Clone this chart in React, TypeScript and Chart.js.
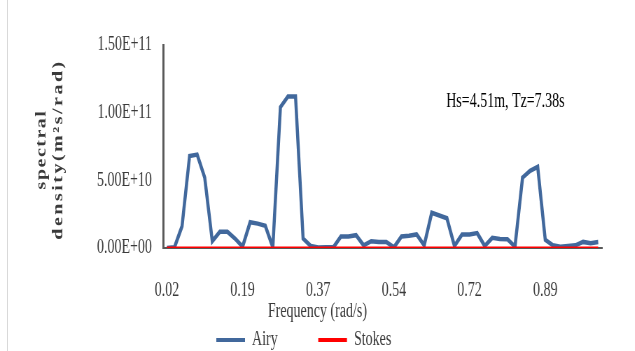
import React, { useEffect, useRef } from 'react';
import { Chart, registerables } from 'chart.js';

Chart.register(...registerables);

// ---------- data ----------
const frequencies = [
  '0.02', '0.04', '0.05', '0.07', '0.09', '0.11', '0.12', '0.14', '0.16', '0.18',
  '0.19', '0.21', '0.23', '0.25', '0.26', '0.28', '0.30', '0.32', '0.33', '0.35',
  '0.37', '0.39', '0.40', '0.42', '0.44', '0.46', '0.47', '0.49', '0.51', '0.53',
  '0.54', '0.56', '0.58', '0.60', '0.61', '0.63', '0.65', '0.67', '0.68', '0.70',
  '0.72', '0.74', '0.75', '0.77', '0.79', '0.81', '0.82', '0.84', '0.86', '0.88',
  '0.89', '0.91', '0.93', '0.95', '0.96', '0.98', '1.00', '1.02',
];

const airy = [
  0, 0.05e10, 1.6e10, 6.8e10, 6.9e10, 5.2e10, 0.5e10, 1.2e10, 1.2e10, 0.7e10,
  0.1e10, 1.9e10, 1.8e10, 1.65e10, 0.05e10, 10.4e10, 11.2e10, 11.2e10, 0.7e10, 0.15e10,
  0.03e10, 0.05e10, 0.05e10, 0.85e10, 0.85e10, 0.95e10, 0.2e10, 0.5e10, 0.45e10, 0.45e10,
  0.05e10, 0.85e10, 0.9e10, 1.0e10, 0.2e10, 2.6e10, 2.4e10, 2.2e10, 0.15e10, 1.0e10,
  1.0e10, 1.1e10, 0.15e10, 0.75e10, 0.67e10, 0.65e10, 0.1e10, 5.2e10, 5.7e10, 6.0e10,
  0.6e10, 0.2e10, 0.1e10, 0.15e10, 0.2e10, 0.45e10, 0.35e10, 0.45e10,
];

const stokes = [
  0, 0, 0, 0, 0, 0, 0, 0, 0, 0,
  0, 0, 0, 0, 0, 0, 0, 0, 0, 0,
  0, 0, 0, 0, 0, 0, 0, 0, 0, 0,
  0, 0, 0, 0, 0, 0, 0, 0, 0, 0,
  0, 0, 0, 0, 0, 0, 0, 0, 0, 0,
  0, 0, 0, 0, 0, 0, 0, 0,
];

const seriesNames = ['Airy', 'Stokes'];
const yTickLabels = ['0.00E+00', '5.00E+10', '1.00E+11', '1.50E+11'];
const xTitle = 'Frequency (rad/s)';
const yTitle = ['spectral', 'density(m²s/rad)'];
const noteText = 'Hs=4.51m, Tz=7.38s';

// ---------- layout / style ----------
const SX = 0.7; // horizontal squash of the reference image
const W = Math.round(635 / SX);
const H = 351;
const FONT = '"Liberation Serif", "Times New Roman", serif';
const TXT = '#3a3a3a';

const textPlugin = {
  id: 'extraTexts',
  afterDraw(chart: any) {
    const { ctx, chartArea } = chart;
    ctx.save();
    ctx.fillStyle = TXT;
    ctx.font = `bold 20px ${FONT}`;
    ctx.textAlign = 'center';
    ctx.textBaseline = 'middle';
    const cy = (chartArea.top + chartArea.bottom) / 2 + 3;
    const xs = [60, 84];
    const spacing = ['1.5px', '2.5px'];
    yTitle.forEach((t, i) => {
      ctx.save();
      (ctx as any).letterSpacing = spacing[i];
      ctx.translate(xs[i], cy);
      ctx.rotate(-Math.PI / 2);
      ctx.fillText(t, 0, 0);
      ctx.restore();
    });
    (ctx as any).letterSpacing = '0px';
    ctx.font = `20px ${FONT}`;
    ctx.fillStyle = TXT;
    ctx.fillText(xTitle, W / 2, 312);
    ctx.fillStyle = '#000000';
    ctx.fillText(noteText, 722, 102);
    ctx.restore();
  },
};

// move the legend row into its place below the axis title
const legendPlace = {
  id: 'legendPlace',
  afterLayout(chart: any) {
    const l = chart.legend;
    if (!l) return;
    l.top -= 33;
    l.bottom -= 33;
    l.left += 4;
    l.right += 4;
  },
};

export default function App() {
  const ref = useRef<HTMLCanvasElement | null>(null);

  useEffect(() => {
    if (!ref.current) return;
    const chart = new Chart(ref.current, {
      type: 'line',
      data: {
        labels: frequencies,
        datasets: [
          {
            label: seriesNames[0],
            data: airy,
            borderColor: '#41689c',
            backgroundColor: '#41689c',
            borderWidth: 4.5,
            pointRadius: 0,
            tension: 0,
            order: 1,
          },
          {
            label: seriesNames[1],
            data: stokes,
            borderColor: '#ff0000',
            backgroundColor: '#ff0000',
            borderWidth: 3,
            pointRadius: 0,
            tension: 0,
            order: 0,
          },
        ],
      },
      options: {
        responsive: false,
        animation: false,
        devicePixelRatio: 1,
        layout: { padding: { left: 0, right: 47, top: 45, bottom: -42 } },
        plugins: {
          tooltip: { enabled: false },
          legend: {
            position: 'bottom',
            align: 'center',
            labels: {
              boxWidth: 41,
              boxHeight: 4,
              padding: 58,
              color: TXT,
              font: { family: FONT, size: 20 },
              generateLabels: (c: any) =>
                c.data.datasets.map((ds: any, i: number) => ({
                  text: ds.label,
                  fillStyle: ds.borderColor,
                  strokeStyle: ds.borderColor,
                  lineWidth: 0,
                  hidden: false,
                  datasetIndex: i,
                  fontColor: TXT,
                })),
            },
          },
        },
        scales: {
          x: {
            type: 'category',
            offset: true,
            grid: { display: false, drawTicks: false },
            border: { display: true, color: '#595959', width: 2 },
            ticks: {
              autoSkip: false,
              maxRotation: 0,
              minRotation: 0,
              padding: 31,
              color: TXT,
              font: { family: FONT, size: 20 },
              callback: function (this: any, v: any, i: number) {
                return i % 10 === 0 ? this.getLabelForValue(v) : '';
              },
            },
            afterFit: (s: any) => {
              s.height = 57;
            },
          },
          y: {
            min: 0,
            max: 1.5e11,
            grid: { display: false, drawTicks: false },
            border: { display: true, color: '#595959', width: 3 },
            ticks: {
              stepSize: 5e10,
              padding: 16,
              color: TXT,
              font: { family: FONT, size: 20 },
              callback: (_v: any, i: number) => yTickLabels[i],
            },
            afterFit: (s: any) => {
              s.width = 233;
            },
          },
        },
      },
      plugins: [textPlugin, legendPlace],
    } as any);
    return () => chart.destroy();
  }, []);

  return (
    <div
      style={{
        position: 'fixed',
        left: 0,
        top: 0,
        width: 635,
        height: 351,
        overflow: 'hidden',
        background: '#ffffff',
      }}
    >
      <div style={{ position: 'absolute', left: 7, top: 0, width: 1, height: 351, background: '#d9d9d9' }} />
      <div style={{ width: W, height: H, transform: `scaleX(${SX})`, transformOrigin: '0 0' }}>
        <canvas ref={ref} width={W} height={H} style={{ display: 'block' }} />
      </div>
    </div>
  );
}
